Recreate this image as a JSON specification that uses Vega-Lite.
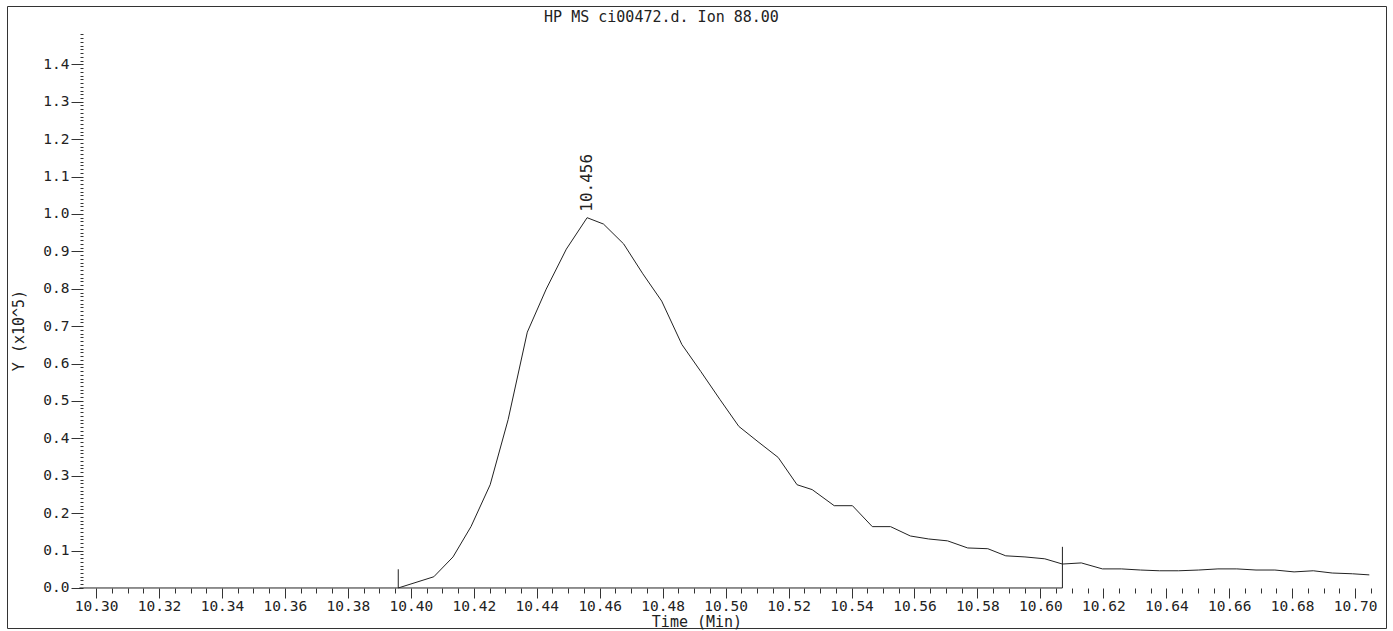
{
  "$schema": "https://vega.github.io/schema/vega-lite/v6.json",
  "autosize": {"type": "none"},
  "padding": {"left": 7, "top": 6, "right": 7, "bottom": 3},
  "width": 1379,
  "height": 622,
  "background": "white",
  "title": {
    "text": "HP MS ci00472.d. Ion 88.00",
    "orient": "top",
    "anchor": "middle",
    "frame": "group",
    "baseline": "alphabetic",
    "offset": -15,
    "dx": -35,
    "dy": 16,
    "font": "DejaVu Sans Mono",
    "fontSize": 15,
    "fontWeight": "normal",
    "color": "#222"
  },
  "datasets": {
    "trace": [
      {"t": 10.2947, "y": 0},
      {"t": 10.396, "y": 0},
      {"t": 10.4073, "y": 0.03},
      {"t": 10.4134, "y": 0.083},
      {"t": 10.4191, "y": 0.164},
      {"t": 10.4252, "y": 0.276},
      {"t": 10.4309, "y": 0.45},
      {"t": 10.437, "y": 0.684},
      {"t": 10.443, "y": 0.799},
      {"t": 10.4494, "y": 0.906},
      {"t": 10.456, "y": 0.99},
      {"t": 10.4612, "y": 0.973},
      {"t": 10.4676, "y": 0.92},
      {"t": 10.4737, "y": 0.84},
      {"t": 10.4797, "y": 0.767},
      {"t": 10.4861, "y": 0.651},
      {"t": 10.4921, "y": 0.579},
      {"t": 10.4982, "y": 0.504},
      {"t": 10.5042, "y": 0.432},
      {"t": 10.5103, "y": 0.391},
      {"t": 10.5167, "y": 0.349},
      {"t": 10.5227, "y": 0.276},
      {"t": 10.5275, "y": 0.263},
      {"t": 10.5345, "y": 0.22},
      {"t": 10.5403, "y": 0.22},
      {"t": 10.5466, "y": 0.164},
      {"t": 10.5524, "y": 0.164},
      {"t": 10.5587, "y": 0.139},
      {"t": 10.5645, "y": 0.131},
      {"t": 10.5705, "y": 0.126},
      {"t": 10.5769, "y": 0.107},
      {"t": 10.5833, "y": 0.105},
      {"t": 10.589, "y": 0.086},
      {"t": 10.5951, "y": 0.083},
      {"t": 10.6014, "y": 0.078},
      {"t": 10.607, "y": 0.064},
      {"t": 10.613, "y": 0.067},
      {"t": 10.6197, "y": 0.051},
      {"t": 10.6257, "y": 0.051},
      {"t": 10.6318, "y": 0.048},
      {"t": 10.6378, "y": 0.046},
      {"t": 10.6439, "y": 0.046},
      {"t": 10.6503, "y": 0.048},
      {"t": 10.6564, "y": 0.051},
      {"t": 10.6624, "y": 0.051},
      {"t": 10.6685, "y": 0.048},
      {"t": 10.6745, "y": 0.048},
      {"t": 10.6806, "y": 0.043},
      {"t": 10.6867, "y": 0.046},
      {"t": 10.6927, "y": 0.04},
      {"t": 10.6991, "y": 0.038},
      {"t": 10.7045, "y": 0.035}
    ],
    "markers": [
      {"t": 10.396, "top": 0.05},
      {"t": 10.607, "top": 0.11}
    ],
    "baseline": [
      {"start": 10.396, "end": 10.607, "level": 0}
    ]
  },
  "layer": [
    {
      "data": {"name": "trace"},
      "mark": {"type": "line", "color": "#222", "strokeWidth": 1, "interpolate": "linear"},
      "encoding": {
        "x": {
          "field": "t", "type": "quantitative",
          "scale": {"domain": [10.2717, 10.7098], "nice": false, "zero": false},
          "axis": {
            "orient": "bottom",
            "values": [10.3,10.305,10.31,10.315,10.32,10.325,10.33,10.335,10.34,10.345,10.35,10.355,10.36,10.365,10.37,10.375,10.38,10.385,10.39,10.395,10.4,10.405,10.41,10.415,10.42,10.425,10.43,10.435,10.44,10.445,10.45,10.455,10.46,10.465,10.47,10.475,10.48,10.485,10.49,10.495,10.5,10.505,10.51,10.515,10.52,10.525,10.53,10.535,10.54,10.545,10.55,10.555,10.56,10.565,10.57,10.575,10.58,10.585,10.59,10.595,10.6,10.605,10.61,10.615,10.62,10.625,10.63,10.635,10.64,10.645,10.65,10.655,10.66,10.665,10.67,10.675,10.68,10.685,10.69,10.695,10.7,10.705],
            "tickCount": 1000,
            "labelExpr": "abs(datum.value * 50 - round(datum.value * 50)) < 0.01 ? format(datum.value, '.2f') : ''",
            "offset": -40,
            "domain": false,
            "grid": false,
            "tickSize": {"condition": {"test": "abs(datum.value * 50 - round(datum.value * 50)) < 0.01", "value": 10}, "value": 5},
            "labelPadding": 1,
            "labelFlush": false,
            "labelOverlap": false,
            "title": "Time (Min)",
            "titlePadding": 2
          }
        },
        "y": {
          "field": "y", "type": "quantitative",
          "scale": {"domain": [-0.107, 1.556], "nice": false, "zero": false},
          "axis": {
            "orient": "left",
            "values": [0,0.01,0.02,0.03,0.04,0.05,0.06,0.07,0.08,0.09,0.1,0.11,0.12,0.13,0.14,0.15,0.16,0.17,0.18,0.19,0.2,0.21,0.22,0.23,0.24,0.25,0.26,0.27,0.28,0.29,0.3,0.31,0.32,0.33,0.34,0.35,0.36,0.37,0.38,0.39,0.4,0.41,0.42,0.43,0.44,0.45,0.46,0.47,0.48,0.49,0.5,0.51,0.52,0.53,0.54,0.55,0.56,0.57,0.58,0.59,0.6,0.61,0.62,0.63,0.64,0.65,0.66,0.67,0.68,0.69,0.7,0.71,0.72,0.73,0.74,0.75,0.76,0.77,0.78,0.79,0.8,0.81,0.82,0.83,0.84,0.85,0.86,0.87,0.88,0.89,0.9,0.91,0.92,0.93,0.94,0.95,0.96,0.97,0.98,0.99,1.0,1.01,1.02,1.03,1.04,1.05,1.06,1.07,1.08,1.09,1.1,1.11,1.12,1.13,1.14,1.15,1.16,1.17,1.18,1.19,1.2,1.21,1.22,1.23,1.24,1.25,1.26,1.27,1.28,1.29,1.3,1.31,1.32,1.33,1.34,1.35,1.36,1.37,1.38,1.39,1.4,1.41,1.42,1.43,1.44,1.45,1.46,1.47,1.48],
            "tickCount": 1000,
            "labelExpr": "abs(datum.value * 10 - round(datum.value * 10)) < 0.01 ? format(datum.value, '.1f') : ''",
            "offset": -76,
            "domain": false,
            "grid": false,
            "tickSize": {"condition": {"test": "abs(datum.value * 10 - round(datum.value * 10)) < 0.01", "value": 12}, "value": 3},
            "labelPadding": 2,
            "labelFlush": false,
            "labelOverlap": false,
            "title": "Y (x10^5)",
            "titleX": -65,
            "titleY": 324,
            "titleAngle": 270,
            "titleAlign": "center",
            "titleBaseline": "middle"
          }
        }
      }
    },
    {
      "data": {"name": "baseline"},
      "mark": {"type": "rule", "color": "#222", "strokeWidth": 1},
      "encoding": {
        "x": {"field": "start", "type": "quantitative"},
        "x2": {"field": "end"},
        "y": {"field": "level", "type": "quantitative"}
      }
    },
    {
      "data": {"name": "markers"},
      "mark": {"type": "rule", "color": "#222", "strokeWidth": 1},
      "encoding": {
        "x": {"field": "t", "type": "quantitative"},
        "y": {"field": "top", "type": "quantitative"},
        "y2": {"datum": 0}
      }
    },
    {
      "data": {"name": "trace"},
      "transform": [{"filter": "datum.t === 10.456"}],
      "mark": {
        "type": "text",
        "angle": 270,
        "align": "left",
        "baseline": "middle",
        "dx": 6,
        "font": "DejaVu Sans Mono",
        "fontSize": 16,
        "color": "#222"
      },
      "encoding": {
        "x": {"field": "t", "type": "quantitative"},
        "y": {"field": "y", "type": "quantitative"},
        "text": {"field": "t", "type": "quantitative", "format": ".3f"}
      }
    }
  ],
  "config": {
    "view": {"stroke": "#333", "strokeWidth": 1},
    "axis": {
      "labelFont": "DejaVu Sans Mono",
      "labelFontSize": 14.5,
      "labelColor": "#222",
      "titleFont": "DejaVu Sans Mono",
      "titleFontSize": 15,
      "titleFontWeight": "normal",
      "titleColor": "#222",
      "tickColor": "#333",
      "tickWidth": 1
    }
  }
}
